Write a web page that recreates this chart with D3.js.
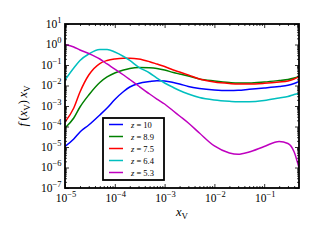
<!DOCTYPE html>
<html>
<head>
<meta charset="utf-8">
<script src="https://cdn.jsdelivr.net/npm/d3@7"></script>
<style>
  body { margin: 0; background: #fff; }
  svg { display: block; }
  text { font-family: "Liberation Serif", "DejaVu Serif", serif; fill: #000; }
</style>
</head>
<body>
<svg id="chart" width="318" height="240"></svg>
<script>
// ---------------- data ----------------
const xV = [1e-5, 1.5e-5, 2e-5, 3e-5, 5e-5, 7e-5, 1e-4, 1.5e-4, 2e-4, 3e-4, 5e-4, 7e-4,
            1e-3, 1.5e-3, 2e-3, 3e-3, 5e-3, 1e-2, 2e-2, 3e-2, 5e-2, 0.1, 0.2, 0.3, 0.4, 0.5];

const fz10 = [1.06e-5, 2.45e-5, 5.4e-5, 1.18e-4, 3.64e-4, 8.0e-4, 0.00207, 0.00509, 0.00845, 0.01253,
              0.01567, 0.01714, 0.0166, 0.014, 0.01184, 0.00893, 0.00714, 0.00603, 0.0057, 0.00583,
              0.00653, 0.00755, 0.00893, 0.01023, 0.01253, 0.01567];
const fz89 = [8.45e-5, 2.6e-4, 8.93e-4, 0.00344, 0.014, 0.026, 0.0407, 0.057, 0.0675, 0.0755,
              0.073, 0.0675, 0.057, 0.043, 0.0364, 0.029, 0.0208, 0.0166, 0.014, 0.01325,
              0.01325, 0.0148, 0.01754, 0.0196, 0.0232, 0.0275];
const fz75 = [1.66e-4, 7.98e-4, 0.00482, 0.0325, 0.118, 0.166, 0.196, 0.212, 0.212, 0.196,
              0.145, 0.112, 0.0845, 0.057, 0.0456, 0.0325, 0.0208, 0.0148, 0.01253, 0.01184,
              0.01184, 0.0128, 0.0148, 0.0166, 0.0208, 0.026];
const fz64 = [0.0185, 0.0714, 0.166, 0.344, 0.570, 0.570, 0.431, 0.260, 0.166, 0.0798,
              0.0407, 0.0232, 0.01325, 0.00799, 0.0057, 0.00385, 0.0026, 0.00196, 0.0017, 0.00162,
              0.00162, 0.00185, 0.00245, 0.0029, 0.00364, 0.00407];
const fz53 = [1.0, 0.755, 0.54, 0.364, 0.196, 0.112, 0.0638, 0.0325, 0.0196, 0.00946,
              0.00385, 0.00219, 0.00125, 5.7e-4, 3.25e-4, 1.48e-4, 4.8e-5, 1.12e-5, 5.1e-6, 4.4e-6,
              5.7e-6, 1.06e-5, 1.85e-5, 1.48e-5, 5.7e-6, 9.5e-7];

const zLabels = ["10", "8.9", "7.5", "6.4", "5.3"];
const seriesValues = [fz10, fz89, fz75, fz64, fz53];

const xMajor = [1e-5, 1e-4, 1e-3, 1e-2, 1e-1];
const xMajorExp = ["\u22125", "\u22124", "\u22123", "\u22122", "\u22121"];
const yMajor = [1e-7, 1e-6, 1e-5, 1e-4, 1e-3, 1e-2, 1e-1, 1, 10];
const yMajorExp = ["\u22127", "\u22126", "\u22125", "\u22124", "\u22123", "\u22122", "\u22121", "0", "1"];

// ---------------- layout ----------------
const lineColors = ["#0000ff", "#008000", "#ff0000", "#00bfbf", "#bf00bf"];
const plotL = 65, plotR = 299, plotT = 24, plotB = 188;

const svg = d3.select("#chart");
const x = d3.scaleLog().domain([1e-5, 0.5]).range([plotL, plotR]);
const y = d3.scaleLog().domain([1e-7, 10]).range([plotB, plotT]);

// minor tick values
const xMinor = [];
for (let d = -5; d <= -1; d++) for (let m = 2; m <= 9; m++) {
  const v = m * Math.pow(10, d);
  if (v < 0.5) xMinor.push(v);
}
const yMinor = [];
for (let d = -7; d <= 0; d++) for (let m = 2; m <= 9; m++) yMinor.push(m * Math.pow(10, d));

// clip
svg.append("defs").append("clipPath").attr("id", "clip")
  .append("rect").attr("x", plotL).attr("y", plotT)
  .attr("width", plotR - plotL).attr("height", plotB - plotT);

// curves
const line = d3.line()
  .x((d) => x(d[0]))
  .y((d) => y(d[1]))
  .curve(d3.curveMonotoneX);

svg.append("g").attr("clip-path", "url(#clip)")
  .selectAll("path")
  .data(seriesValues)
  .enter()
  .append("path")
  .attr("d", (vals) => line(xV.map((xv, i) => [xv, vals[i]])))
  .attr("fill", "none")
  .attr("stroke", (d, i) => lineColors[i])
  .attr("stroke-width", 1.5);

// ticks on all four sides, pointing inwards
function tickAxis(axis, tx, ty) {
  const g = svg.append("g").attr("transform", `translate(${tx},${ty})`).call(axis);
  g.select(".domain").remove();
  g.selectAll("line").attr("stroke", "#000").attr("stroke-width", 0.8);
  g.selectAll("text").remove();
}
tickAxis(d3.axisBottom(x).tickValues(xMajor).tickSize(-4).tickFormat(""), 0, plotB);
tickAxis(d3.axisBottom(x).tickValues(xMinor).tickSize(-2).tickFormat(""), 0, plotB);
tickAxis(d3.axisTop(x).tickValues(xMajor).tickSize(-4).tickFormat(""), 0, plotT);
tickAxis(d3.axisTop(x).tickValues(xMinor).tickSize(-2).tickFormat(""), 0, plotT);
tickAxis(d3.axisLeft(y).tickValues(yMajor).tickSize(-4).tickFormat(""), plotL, 0);
tickAxis(d3.axisLeft(y).tickValues(yMinor).tickSize(-2).tickFormat(""), plotL, 0);
tickAxis(d3.axisRight(y).tickValues(yMajor).tickSize(-4).tickFormat(""), plotR, 0);
tickAxis(d3.axisRight(y).tickValues(yMinor).tickSize(-2).tickFormat(""), plotR, 0);

// frame
svg.append("rect")
  .attr("x", plotL).attr("y", plotT)
  .attr("width", plotR - plotL).attr("height", plotB - plotT)
  .attr("fill", "none").attr("stroke", "#000").attr("stroke-width", 1.8);

// tick labels 10^n
function powLabel(sel, exp) {
  sel.append("tspan").attr("font-size", 11.5).text("10");
  sel.append("tspan").attr("font-size", 8.5).attr("dy", -5).text(exp);
}
xMajor.forEach((v, i) => {
  const t = svg.append("text")
    .attr("x", x(v) + 1).attr("y", plotB + 13.5)
    .attr("text-anchor", "middle");
  powLabel(t, xMajorExp[i]);
});
yMajor.forEach((v, i) => {
  const t = svg.append("text")
    .attr("x", plotL - 3.5).attr("y", y(v) + 3.5)
    .attr("text-anchor", "end");
  powLabel(t, yMajorExp[i]);
});

// axis labels
const xl = svg.append("text").attr("x", (plotL + plotR) / 2).attr("y", 216)
  .attr("text-anchor", "middle").attr("font-size", 12.5);
xl.append("tspan").attr("font-style", "italic").text("x");
xl.append("tspan").attr("font-size", 9).attr("dy", 3).text("V");

const yl = svg.append("text")
  .attr("transform", `translate(27,${(plotT + plotB) / 2}) rotate(-90)`)
  .attr("text-anchor", "middle").attr("font-size", 12.5);
yl.append("tspan").attr("font-style", "italic").text("f");
yl.append("tspan").text("\u2009(");
yl.append("tspan").attr("font-style", "italic").text("x");
yl.append("tspan").attr("font-size", 9).attr("dy", 3).text("V");
yl.append("tspan").attr("dy", -3).text(")\u2009");
yl.append("tspan").attr("font-style", "italic").text("x");
yl.append("tspan").attr("font-size", 9).attr("dy", 3).text("V");

// legend
const lg = svg.append("g");
lg.append("rect")
  .attr("x", 103).attr("y", 118).attr("width", 61).attr("height", 62)
  .attr("fill", "#fff").attr("stroke", "#000").attr("stroke-width", 1.8);
zLabels.forEach((z, i) => {
  const cy = 124.5 + i * 12;
  lg.append("line")
    .attr("x1", 109).attr("x2", 123).attr("y1", cy).attr("y2", cy)
    .attr("stroke", lineColors[i]).attr("stroke-width", 1.5);
  const t = lg.append("text").attr("x", 131).attr("y", cy + 3).attr("font-size", 8.5);
  t.append("tspan").attr("font-style", "italic").text("z");
  t.append("tspan").text(" = " + z);
});
</script>
</body>
</html>
